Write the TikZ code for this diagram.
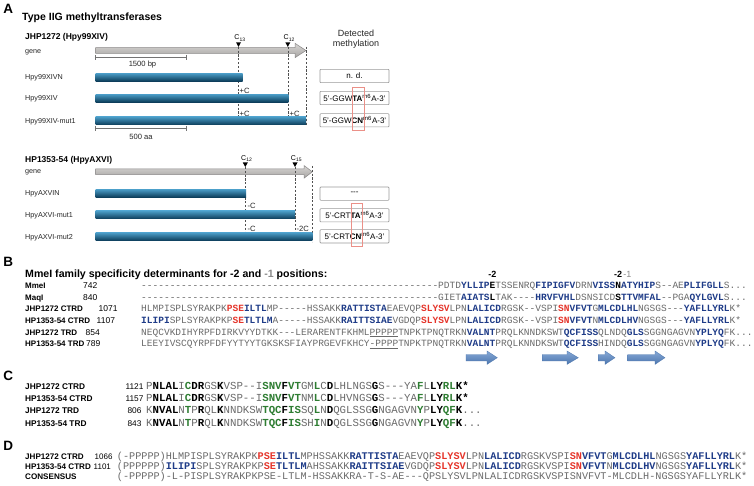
\documentclass[tikz,border=0pt]{standalone}
\usepackage{fontspec}
\setmainfont{Liberation Sans}
\setmonofont{Liberation Mono}
\definecolor{seqgray}{HTML}{6A6A6A}
\definecolor{seqblue}{HTML}{1F3C88}
\definecolor{seqred}{HTML}{E5352B}
\definecolor{seqgreen}{HTML}{2E7D32}
\definecolor{barTop}{HTML}{4A9CC6}
\definecolor{barMid}{HTML}{1C6C97}
\definecolor{barBot}{HTML}{0B3B58}
\definecolor{geneTop}{HTML}{D8D6D4}
\definecolor{geneBot}{HTML}{A6A4A2}
\definecolor{geneLine}{HTML}{8A8888}
\definecolor{boxLine}{HTML}{9A9A9A}
\definecolor{redBox}{HTML}{EB9088}
\definecolor{strandTop}{HTML}{86A8D6}
\definecolor{strandBot}{HTML}{4C76AE}
\definecolor{dashCol}{HTML}{505050}
\definecolor{minusGray}{HTML}{8A8A8A}
\newcommand{\qb}[1]{{\bfseries\color{seqblue}#1}}
\newcommand{\qr}[1]{{\bfseries\color{seqred}#1}}
\newcommand{\qk}[1]{{\bfseries\color{black}#1}}
\newcommand{\qn}[1]{{\bfseries\color{seqgreen}#1}}
\newcommand{\tdash}{----------}
\tikzset{
  panel/.style={anchor=base west, inner sep=0, font=\bfseries\fontsize{13.5}{14}\selectfont},
  ttl/.style={anchor=base west, inner sep=0, font=\bfseries\fontsize{10.5}{12}\selectfont},
  gtitle/.style={anchor=base west, inner sep=0, font=\bfseries\fontsize{8.5}{10}\selectfont},
  rlab/.style={anchor=base west, inner sep=0, font=\fontsize{7.2}{8}\selectfont, text=black!85},
  smalltxt/.style={anchor=base, inner sep=0, font=\fontsize{7.6}{8}\selectfont, text=black!85},
  cmark/.style={anchor=base, inner sep=0, font=\fontsize{7}{8}\selectfont},
  cchg/.style={anchor=base west, inner sep=0, font=\fontsize{7.6}{8}\selectfont, text=black!85},
  dettxt/.style={anchor=base, inner sep=0, font=\fontsize{9}{10}\selectfont, text=black!85},
  mbox/.style={draw=boxLine, line width=0.6pt, rounded corners=0.8pt, minimum width=69pt, minimum height=13.3pt, inner sep=0, font=\fontsize{8}{9}\selectfont},
  hdr/.style={anchor=base west, inner sep=0, font=\bfseries\fontsize{10.6}{12}\selectfont},
  blab/.style={anchor=base west, inner sep=0, font=\bfseries\fontsize{8}{10}\selectfont},
  bnum/.style={anchor=base west, inner sep=0, font=\fontsize{8.5}{10}\selectfont},
  bseq/.style={anchor=base west, inner sep=0, font=\ttfamily\fontsize{9.52}{10}\selectfont, text=seqgray},
  clab/.style={anchor=base west, inner sep=0, font=\bfseries\fontsize{8.3}{10}\selectfont},
  cnum/.style={anchor=base, inner sep=0, font=\fontsize{8.3}{10}\selectfont},
  cseq/.style={anchor=base west, inner sep=0, font=\ttfamily\fontsize{10.75}{12}\selectfont, text=seqgray},
  dlab/.style={anchor=base west, inner sep=0, font=\bfseries\fontsize{8.1}{10}\selectfont},
  dnum/.style={anchor=base west, inner sep=0, font=\fontsize{8}{10}\selectfont},
  dseq/.style={anchor=base west, inner sep=0, font=\ttfamily\fontsize{10.2}{11}\selectfont, text=seqgray},
  posmark/.style={anchor=base, inner sep=0, font=\bfseries\fontsize{9}{10}\selectfont},
  cylbar/.style={top color=barTop, middle color=barMid, bottom color=barBot},
  genearr/.style={top color=geneTop, bottom color=geneBot, draw=geneLine, line width=0.5pt},
  vdash/.style={draw=dashCol, line width=0.5pt, dash pattern=on 2.2pt off 1.6pt},
  scalebar/.style={draw=black!55, line width=0.6pt},
  strand/.style={top color=strandTop, bottom color=strandBot, draw=strandBot, line width=0.3pt},
  redframe/.style={draw=redBox, line width=0.8pt},
}
\begin{document}
\begin{tikzpicture}[x=1pt,y=-1pt]
\useasboundingbox (0,0) rectangle (754,486);
\fill[white] (0,0) rectangle (754,486);

% ---------------- Panel A ----------------
\node[panel] (pA) at (3.2,13.3) {A};
\node[ttl] (tA) at (22,21) {Type IIG methyltransferases};
\node[gtitle] (g1) at (25,40) {JHP1272 (Hpy99XIV)};
\node[rlab] (ge1) at (25,53.3) {gene};
\shadedraw[genearr] (95.5,47.7) -- (295,47.7) -- (295,43.3) -- (306,50.5) -- (295,57.7) -- (295,53.3) -- (95.5,53.3) -- cycle;
\draw[scalebar] (95.7,57.3) -- (186,57.3);
\draw[scalebar] (95.7,55) -- (95.7,59.7);
\draw[scalebar] (186,55) -- (186,59.7);
\node[smalltxt] (sb1) at (142.5,66.7) {1500 bp};

\fill (236,42.3) -- (241,42.3) -- (238.5,46.9) -- cycle;
\fill (285.3,42.3) -- (290.3,42.3) -- (287.8,46.9) -- cycle;
\node[cmark] (c13) at (240,40) {C\textsubscript{13}};
\node[cmark] (c12a) at (289.3,40) {C\textsubscript{12}};
\draw[vdash] (238.5,46.9) -- (238.5,125.5);
\draw[vdash] (287.8,46.9) -- (287.8,125.5);
\draw[vdash] (305.8,46.7) -- (305.8,125.5);

\shade[cylbar] (95.5,73.2) rectangle (242.7,81.2);
\shade[cylbar] (95.5,94.2) rectangle (288.3,102.2);
\shade[cylbar] (95.5,116.8) rectangle (306,125);
\node[rlab] (r1) at (25,79.7) {Hpy99XIVN};
\node[rlab] (r2) at (25,100.8) {Hpy99XIV};
\node[rlab] (r3) at (25,123.3) {Hpy99XIV-mut1};
\node[cchg] (pc1) at (239.5,94) {+C};
\node[cchg] (pc2) at (239.5,116.3) {+C};
\node[cchg] (pc3) at (289.5,116.3) {+C};
\draw[scalebar] (95.7,128.3) -- (186,128.3);
\draw[scalebar] (95.7,126) -- (95.7,130.7);
\draw[scalebar] (186,126) -- (186,130.7);
\node[smalltxt] (sb2) at (141,139.3) {500 aa};

\node[dettxt] (dm1) at (356,36.7) {Detected};
\node[dettxt] (dm2) at (356,46.7) {methylation};
\node[mbox] (m1) at (354.5,76) {n. d.};
\node[mbox] (m2) at (354.5,98) {5'-GGW\textbf{TA}\textsuperscript{m6}A-3'};
\node[mbox] (m3) at (354.5,120.3) {5'-GGW\textbf{CN}\textsuperscript{m6}A-3'};
\draw[redframe] (352.3,87.7) rectangle (364.3,130.7);

\node[gtitle] (g2) at (25,162.5) {HP1353-54 (HpyAXVI)};
\node[rlab] (ge2) at (25,173.8) {gene};
\shadedraw[genearr] (95.5,169) -- (304,169) -- (304,165.5) -- (312.3,171.85) -- (304,178.2) -- (304,174.7) -- (95.5,174.7) -- cycle;
\fill (242.8,162.5) -- (247.8,162.5) -- (245.3,167) -- cycle;
\fill (292.5,162.5) -- (297.5,162.5) -- (295,167) -- cycle;
\node[cmark] (c12b) at (246.8,160.5) {C\textsubscript{12}};
\node[cmark] (c15) at (296.5,160.5) {C\textsubscript{15}};
\draw[vdash] (245.3,167) -- (245.3,242);
\draw[vdash] (295,167) -- (295,242);
\draw[vdash] (312.3,166) -- (312.3,242);

\shade[cylbar] (95.5,189.3) rectangle (246,197.3);
\shade[cylbar] (95.5,211) rectangle (295,219);
\shade[cylbar] (95.5,232.7) rectangle (312.3,240.7);
\node[rlab] (r4) at (25,195.8) {HpyAXVIN};
\node[rlab] (r5) at (25,217.5) {HpyAXVI-mut1};
\node[rlab] (r6) at (25,239.2) {HpyAXVI-mut2};
\node[cchg] (mc1) at (247.5,209) {-C};
\node[cchg] (mc2) at (247.5,231.5) {-C};
\node[cchg] (mc3) at (296.5,231.5) {-2C};

\node[mbox] (m4) at (354.5,193.7) {{-}{-}{-}};
\node[mbox] (m5) at (354.5,215.3) {5'-CRT\textbf{TA}\textsuperscript{m6}A-3'};
\node[mbox] (m6) at (354.5,236.3) {5'-CRT\textbf{CN}\textsuperscript{m6}A-3'};
\draw[redframe] (351,203.3) rectangle (362.3,246.7);

% ---------------- Panel B ----------------
\node[panel] (pB) at (3.2,266) {B};
\node[hdr] (hB) at (25,277.8) {MmeI family specificity determinants for -2 and {\color{minusGray}-1} positions:};
\node[posmark] (pm1) at (492.3,277.5) {-2};
\node[posmark] (pm2) at (618,277.5) {-2};
\node[posmark, anchor=base west, font=\fontsize{9}{10}\selectfont, text=minusGray] (pm3) at (623.1,277.5) {-1};

\node[blab] (bl1) at (25,288.4) {MmeI};
\node[blab] (bl2) at (25,300.05) {MaqI};
\node[blab] (bl3) at (25,311.7) {JHP1272 CTRD};
\node[blab] (bl4) at (25,323.35) {HP1353-54 CTRD};
\node[blab] (bl5) at (25,335.0) {JHP1272 TRD};
\node[blab] (bl6) at (25,346.65) {HP1353-54 TRD};
\node[bnum] (bn1) at (83,288.4) {742};
\node[bnum] (bn2) at (83,300.05) {840};
\node[bnum] (bn3) at (98.5,311.7) {1071};
\node[bnum] (bn4) at (96.5,323.35) {1107};
\node[bnum] (bn5) at (85.5,335.0) {854};
\node[bnum] (bn6) at (86,346.65) {789};

\node[bseq] (bs1) at (141,288.4) {\tdash\tdash\tdash\tdash\tdash--PDTD\qb{YLLIP}\qk{E}TSSENRQ\qb{FIPIGFV}DRN\qb{VISS}\qk{N}\qb{ATYHIP}S--AE\qb{PLIFGLL}S...};
\node[bseq] (bs2) at (141,300.05) {\tdash\tdash\tdash\tdash\tdash--GIET\qb{AIATS}\qk{L}TAK----\qb{HRVFVHL}DSNSICD\qk{S}\qb{TTVMFAL}--PGA\qb{QYLGVL}S...};
\node[bseq] (bs3) at (141,311.7) {HLMPISPLSYRAKPK\qr{PSE}\qb{ILTL}MP-----HSSAKK\qb{RATTISTA}EAEVQP\qr{SLYSV}LPN\qb{LALICD}RGSK--VSPI\qr{SN}\qb{VFVT}G\qb{MLCDLHL}NGSGS---\qb{YAFLLYRL}K*};
\node[bseq] (bs4) at (141,323.35) {\qb{ILIPI}SPLSYRAKPKP\qr{SE}\qb{TLTLM}A-----HSSAKK\qb{RAITTSIAE}VGDQP\qr{SLYSV}LPN\qb{LALICD}RGSK--VSPI\qr{SN}\qb{VFVT}N\qb{MLCDLHV}NGSGS---\qb{YAFLLYRL}K*};
\node[bseq] (bs5) at (141,335.0) {NEQCVKDIHYRPFDIRKVYYDTKK---LERARENTFKHML\underline{PPPPP}TNPKTPNQTRKN\qb{VALNT}PRQLKNNDKSWT\qb{QCFISS}QLNDQ\qb{GLS}SGGNGAGVN\qb{YPLYQ}FK...};
\node[bseq] (bs6) at (141,346.65) {LEEYIVSCQYRPFDFYYTYYTGKSKSFIAYPRGEVFKHCY\underline{-PPPP}TNPKTPNQTRKN\qb{VALNT}PRQLKNNDKSWT\qb{QCFISS}HINDQ\qb{GLS}SGGNGAGVN\qb{YPLYQ}FK...};

\shadedraw[strand] (466,354.5) -- (487,354.5) -- (487,351) -- (497.3,357.7) -- (487,364.4) -- (487,360.9) -- (466,360.9) -- cycle;
\shadedraw[strand] (542.3,354.5) -- (567,354.5) -- (567,351) -- (578.3,357.7) -- (567,364.4) -- (567,360.9) -- (542.3,360.9) -- cycle;
\shadedraw[strand] (598.3,354.5) -- (605,354.5) -- (605,351) -- (615,357.7) -- (605,364.4) -- (605,360.9) -- (598.3,360.9) -- cycle;
\shadedraw[strand] (627.7,354.5) -- (655,354.5) -- (655,351) -- (665,357.7) -- (655,364.4) -- (655,360.9) -- (627.7,360.9) -- cycle;

% ---------------- Panel C ----------------
\node[panel] (pC) at (3.2,380) {C};
\node[clab] (cl1) at (25,389.1) {JHP1272 CTRD};
\node[clab] (cl2) at (25,401.5) {HP1353-54 CTRD};
\node[clab] (cl3) at (25,413.9) {JHP1272 TRD};
\node[clab] (cl4) at (25,426.3) {HP1353-54 TRD};
\node[cnum] (cn1) at (134.5,389.1) {1121};
\node[cnum] (cn2) at (134.5,401.5) {1157};
\node[cnum] (cn3) at (134.5,413.9) {806};
\node[cnum] (cn4) at (134.5,426.3) {843};
\node[cseq] (cs1) at (146,389.1) {P\qk{NLAL}I\qn{C}\qk{DR}GS\qk{K}VSP--I\qn{SNV}\qk{F}\qn{VT}GM\qn{L}C\qk{D}LHLNGS\qk{G}S---YA\qn{F}L\qk{LY}\qn{RL}\qk{K*}};
\node[cseq] (cs2) at (146,401.5) {P\qk{NLAL}I\qn{C}\qk{DR}GS\qk{K}VSP--I\qn{SNV}\qk{F}\qn{VT}NM\qn{L}C\qk{D}LHVNGS\qk{G}S---YA\qn{F}L\qk{LY}\qn{RL}\qk{K*}};
\node[cseq] (cs3) at (146,413.9) {K\qk{NVAL}N\qn{T}P\qk{R}QL\qk{K}NNDKSW\qn{TQC}\qk{F}\qn{IS}SQ\qn{L}N\qk{D}QGLSSG\qk{G}NGAGVN\qn{Y}P\qk{LY}\qn{QF}\qk{K}...};
\node[cseq] (cs4) at (146,426.3) {K\qk{NVAL}N\qn{T}P\qk{R}QL\qk{K}NNDKSW\qn{TQC}\qk{F}\qn{IS}SH\qn{I}N\qk{D}QGLSSG\qk{G}NGAGVN\qn{Y}P\qk{LY}\qn{QF}\qk{K}...};

% ---------------- Panel D ----------------
\node[panel] (pD) at (3.2,450.3) {D};
\node[dlab] (dl1) at (25,459) {JHP1272 CTRD};
\node[dlab] (dl2) at (25,469) {HP1353-54 CTRD};
\node[dlab] (dl3) at (25,479) {CONSENSUS};
\node[dnum] (dn1) at (94.5,459) {1066};
\node[dnum] (dn2) at (93.5,469) {1101};
\node[dseq] (ds1) at (116.7,459) {(-PPPPP)HLMPISPLSYRAKPK\qr{PSE}\qb{ILTL}MPHSSAKK\qb{RATTISTA}EAEVQP\qr{SLYSV}LPN\qb{LALICD}RGSKVSPI\qr{SN}\qb{VFVT}G\qb{MLCDLHL}NGSGS\qb{YAFLLYRL}K*};
\node[dseq] (ds2) at (116.7,469) {(PPPPPP)\qb{ILIPI}SPLSYRAKPKP\qr{SE}\qb{TLTLM}AHSSAKK\qb{RAITTSIAE}VGDQP\qr{SLYSV}LPN\qb{LALICD}RGSKVSPI\qr{SN}\qb{VFVT}N\qb{MLCDLHV}NGSGS\qb{YAFLLYRL}K*};
\node[dseq] (ds3) at (116.7,479) {(-PPPPP)-L-PISPLSYRAKPKPSE-LTLM-HSSAKKRA-T-S-AE---QPSLYSVLPNLALICDRGSKVSPISNVFVT-MLCDLH-NGSGSYAFLLYRLK*};
\end{tikzpicture}
\end{document}
